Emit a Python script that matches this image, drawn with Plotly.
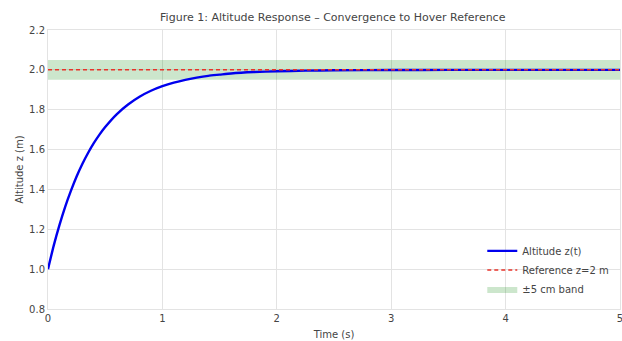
import plotly.graph_objects as go

# Data
time_s = [0.0, 0.05, 0.1, 0.15, 0.2, 0.25, 0.3, 0.35, 0.4, 0.45, 0.5, 0.6, 0.7, 0.8, 0.9, 1.0,
          1.1, 1.2, 1.3, 1.4, 1.5, 1.6, 1.8, 2.0, 2.25, 2.5, 3.0, 3.5, 4.0, 4.5, 5.0]
altitude_m = [1.0, 1.118, 1.221, 1.313, 1.393, 1.465, 1.528, 1.583, 1.632, 1.675, 1.713, 1.777,
              1.826, 1.865, 1.895, 1.918, 1.936, 1.950, 1.961, 1.970, 1.976, 1.982, 1.989, 1.993,
              1.996, 1.998, 1.999, 2.0, 2.0, 2.0, 2.0]
ref_t = [0.0, 5.0]
ref_z = [2.0, 2.0]
band_low = 1.95
band_high = 2.05
x_ticks = [0, 1, 2, 3, 4, 5]
y_ticks = [0.8, 1.0, 1.2, 1.4, 1.6, 1.8, 2.0, 2.2]

fig = go.Figure()
fig.add_trace(go.Scatter(
    x=[ref_t[0], ref_t[1], ref_t[1], ref_t[0], ref_t[0]],
    y=[band_low, band_low, band_high, band_high, band_low],
    fill="toself", fillcolor="rgba(0,128,0,0.2)", line=dict(width=0),
    mode="lines", name="±5 cm band", legendrank=3, hoverinfo="skip"))
fig.add_trace(go.Scatter(x=time_s, y=altitude_m, mode="lines", name="Altitude z(t)",
                         line=dict(color="#0000ee", width=2.4, shape="spline", smoothing=0.6),
                         legendrank=1))
fig.add_trace(go.Scatter(x=ref_t, y=ref_z, mode="lines", name="Reference z=2 m",
                         line=dict(color="#e8332a", width=1.5, dash="4px,3px"), legendrank=2))

font = "DejaVu Sans, sans-serif"
fig.update_layout(
    width=622, height=341,
    margin=dict(l=48, r=2, t=30, b=32, autoexpand=False),
    paper_bgcolor="white", plot_bgcolor="white",
    font=dict(family=font, size=10, color="#444"),
    title=dict(text="Figure 1: Altitude Response – Convergence to Hover Reference",
               x=0.535, xanchor="center", y=0.95, yanchor="middle",
               font=dict(size=11, color="#444")),
    showlegend=True,
    legend=dict(x=0.99, y=0.02, xanchor="right", yanchor="bottom",
                bgcolor="rgba(255,255,255,0)", font=dict(size=10, color="#444"),
                tracegroupgap=0, itemwidth=30),
)
fig.update_xaxes(range=[0, 5], tickvals=x_ticks, ticktext=[str(v) for v in x_ticks],
                 showgrid=True, gridcolor="#e3e3e3", gridwidth=1, zeroline=False,
                 showline=True, linecolor="#e3e3e3", mirror=True, ticks="",
                 automargin=False, ticklabeloverflow="allow",
                 title=dict(text="Time (s)", standoff=7, font=dict(size=10)),
                 tickfont=dict(size=10))
fig.update_yaxes(range=[0.8, 2.2], tickvals=y_ticks, ticktext=[f"{v:.1f}" for v in y_ticks],
                 showgrid=True, gridcolor="#e3e3e3", gridwidth=1, zeroline=False,
                 showline=True, linecolor="#e3e3e3", mirror=True, ticks="",
                 automargin=False, ticklabeloverflow="allow",
                 title=dict(text="Altitude z (m)", standoff=3, font=dict(size=10)),
                 tickfont=dict(size=10))

fig.write_html("out.html", config={"displayModeBar": False},
               post_script="document.body.style.margin='0';")
